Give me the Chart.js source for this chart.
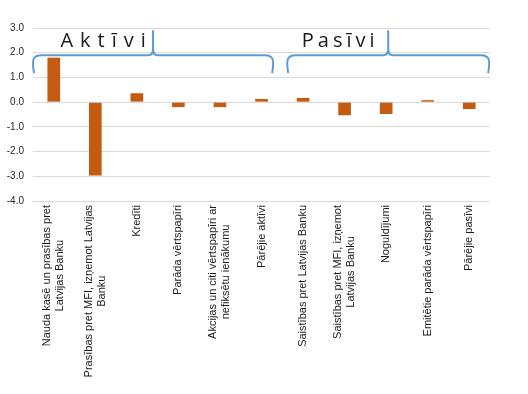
<!DOCTYPE html>
<html>
<head>
<meta charset="utf-8">
<script src="https://cdn.jsdelivr.net/npm/chart.js@4"></script>
<style>
  body { margin: 0; background: #fff; }
</style>
</head>
<body>
<canvas id="myChart" width="528" height="394"></canvas>
<script>
const categories = [
	['Nauda kasē un prasības pret', 'Latvijas Banku'],
	['Prasības pret MFI, izņemot Latvijas', 'Banku'],
	['Kredīti'],
	['Parāda vērtspapīri'],
	['Akcijas un citi vērtspapīri ar', 'nefiksētu ienākumu'],
	['Pārējie aktīvi'],
	['Saistības pret Latvijas Banku'],
	['Saistības pret MFI, izņemot', 'Latvijas Banku'],
	['Noguldījumi'],
	['Emitētie parāda vērtspapīri'],
	['Pārējie pasīvi']
];
const changes = [1.8, -2.97, 0.36, -0.2, -0.2, 0.13, 0.17, -0.53, -0.48, 0.08, -0.28];
const groupNames = ['Aktīvi', 'Pasīvi'];
const groupFirst = [0, 6];
const groupLast = [5, 10];

const ctx = document.getElementById('myChart');

// x labels: block anchored at axis, lines centred inside the block (like Excel)
const labelPlugin = {
	id: 'labelPlugin',
	afterDraw(chart) {
		const c = chart.ctx;
		const xs = chart.scales.x;
		const top = chart.chartArea.bottom + 4;
		c.save();
		c.font = '11px "Liberation Sans"';
		c.fillStyle = '#1a1a1a';
		c.textAlign = 'center';
		c.textBaseline = 'middle';
		categories.forEach((lines, i) => {
			const x = xs.getPixelForValue(i);
			let w = 0;
			lines.forEach(l => { w = Math.max(w, c.measureText(l).width); });
			const lh = 13;
			lines.forEach((l, j) => {
				c.save();
				c.translate(x - (lines.length - 1) * lh / 2 + j * lh, top + w / 2);
				c.rotate(-Math.PI / 2);
				c.fillText(l, 0, 0);
				c.restore();
			});
		});
		c.restore();
	}
};

// curly braces over the two groups
const bracePlugin = {
	id: 'bracePlugin',
	afterDraw(chart) {
		const c = chart.ctx;
		const xs = chart.scales.x;
		const ys = chart.scales.y;
		const insetL = [0, 0.12];
		const insetR = [0.22, 0.02];
		const spacing = [7, 4];
		const yMid = ys.getPixelForValue(1.9);
		c.save();
		groupNames.forEach((name, g) => {
			const x1 = xs.getPixelForValue(groupFirst[g] - 0.5 + insetL[g]);
			const x2 = xs.getPixelForValue(groupLast[g] + 0.5 - insetR[g]);
			const xm = (x1 + x2) / 2;
			const peak = yMid - 25;
			c.strokeStyle = '#5b9bd5';
			c.lineWidth = 2;
			c.beginPath();
			c.moveTo(x1 + 1, yMid + 18);
			c.quadraticCurveTo(x1 - 1, yMid + 6, x1 + 1, yMid + 3);
			c.quadraticCurveTo(x1 + 3, yMid, x1 + 8, yMid);
			c.lineTo(xm - 5, yMid);
			c.quadraticCurveTo(xm, yMid, xm, yMid - 6);
			c.lineTo(xm, peak);
			c.moveTo(xm, yMid - 6);
			c.quadraticCurveTo(xm, yMid, xm + 5, yMid);
			c.lineTo(x2 - 8, yMid);
			c.quadraticCurveTo(x2 - 3, yMid, x2 - 1, yMid + 3);
			c.quadraticCurveTo(x2 + 1, yMid + 6, x2 - 1, yMid + 18);
			c.stroke();

			// letter-spaced group title, left of the brace point
			c.font = '20px "Open Sans"';
			c.fillStyle = '#1a1a1a';
			c.textBaseline = 'alphabetic';
			c.textAlign = 'left';
			const chars = Array.from(name);
			let w = 0;
			chars.forEach(ch => { w += c.measureText(ch).width; });
			w += spacing[g] * (chars.length - 1);
			let x = xm - 50 - w / 2;
			chars.forEach(ch => {
				c.fillText(ch, x, yMid - 8);
				x += c.measureText(ch).width + spacing[g];
			});
		});
		c.restore();
	}
};

new Chart(ctx, {
	type: 'bar',
	data: {
		labels: categories,
		datasets: [{
			data: changes,
			backgroundColor: '#c55a11',
			barPercentage: 0.305,
			categoryPercentage: 1
		}]
	},
	options: {
		responsive: false,
		animation: false,
		layout: { padding: { top: 28, right: 38, left: 0, bottom: 0 } },
		plugins: {
			legend: { display: false },
			tooltip: { enabled: false }
		},
		scales: {
			x: {
				grid: { display: false },
				border: { display: false },
				ticks: { display: false },
				afterFit: (s) => { s.height = 193; }
			},
			y: {
				min: -4,
				max: 3,
				ticks: {
					stepSize: 1,
					padding: 9,
					color: '#262626',
					font: { family: '"Liberation Sans"', size: 10 },
					callback: (v) => v.toFixed(1)
				},
				grid: { color: '#d9d9d9', drawTicks: false },
				border: { display: false },
				afterFit: (s) => { s.width = 33; }
			}
		}
	},
	plugins: [labelPlugin, bracePlugin]
});
</script>
</body>
</html>
